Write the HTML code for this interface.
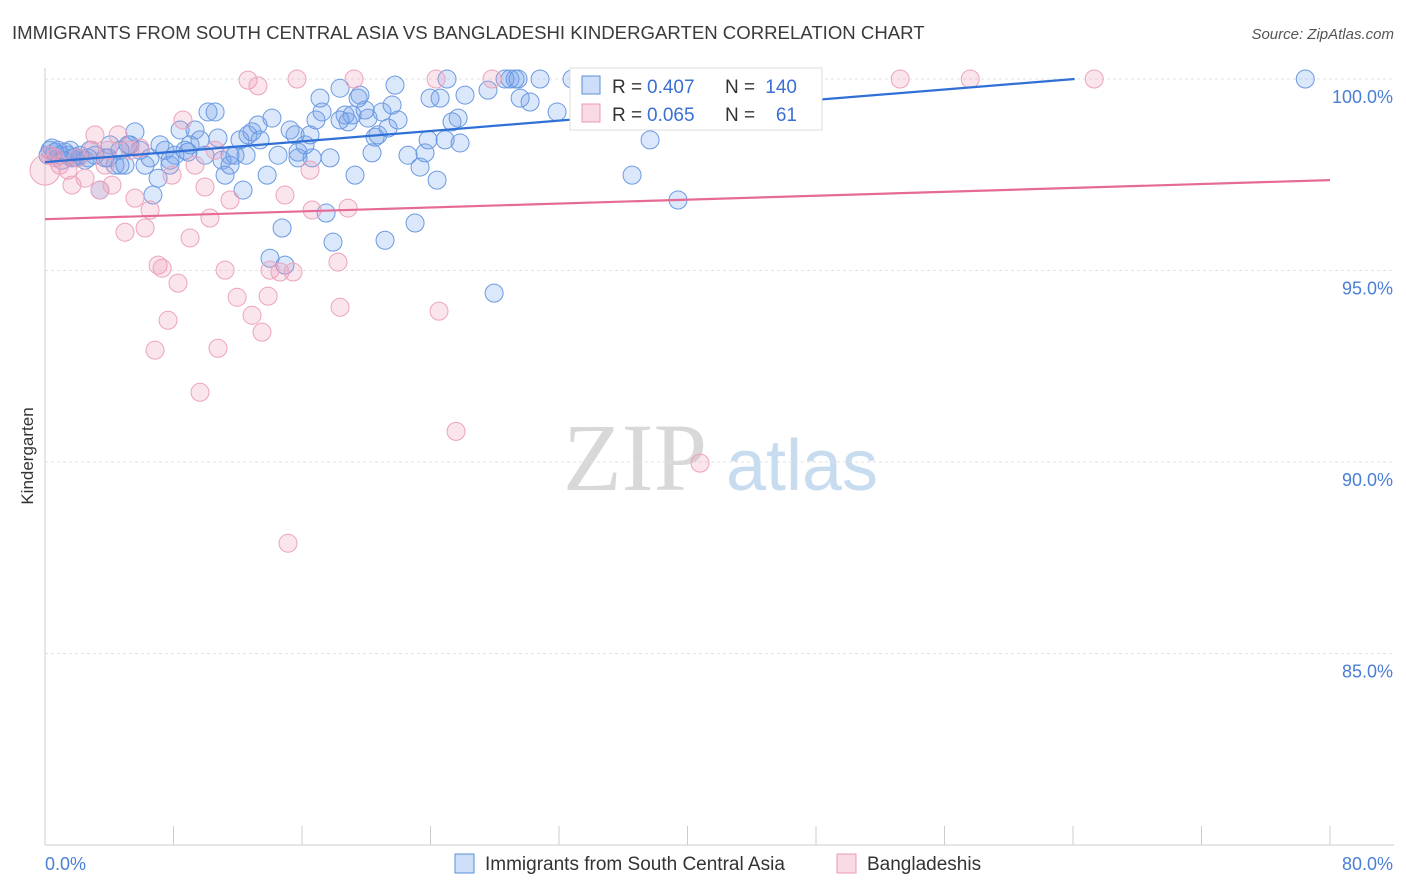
<!DOCTYPE html>
<html><head><meta charset="utf-8">
<style>
body{margin:0;background:#fff;font-family:"Liberation Sans",sans-serif;}
#wrap{position:relative;width:1406px;height:892px;overflow:hidden;}
</style></head>
<body><div id="wrap">
<svg id="chart" width="1406" height="892" xmlns="http://www.w3.org/2000/svg">
<text x="12" y="39" font-size="18.6" fill="#3a3a3a" font-family="Liberation Sans">IMMIGRANTS FROM SOUTH CENTRAL ASIA VS BANGLADESHI KINDERGARTEN CORRELATION CHART</text>
<text x="1394" y="39" font-size="15" fill="#555" font-style="italic" text-anchor="end">Source: ZipAtlas.com</text>
<text x="33" y="456" font-size="17" fill="#333" text-anchor="middle" transform="rotate(-90 33 456)">Kindergarten</text>
<g>
<text x="635" y="490" font-size="96" fill="#d8d8d8" font-family="Liberation Serif" text-anchor="middle">ZIP</text>
<text x="802" y="490" font-size="72" fill="#c8dcf0" text-anchor="middle">atlas</text>
</g>
<g id="grid"></g><g id="axes"></g><g id="pts"></g><g id="lines"></g>
<g>
<rect x="570" y="68" width="252" height="62" fill="#fff" stroke="#ddd"/>
<rect x="582" y="76" width="18" height="18" fill="rgba(110,160,235,0.35)" stroke="#5b8fd9"/>
<rect x="582" y="104" width="18" height="18" fill="rgba(240,150,180,0.35)" stroke="#e89ab5"/>
<text x="612" y="93" font-size="19" fill="#333">R =</text>
<text x="647" y="93" font-size="19" fill="#3b6fd4">0.407</text>
<text x="725" y="93" font-size="19" fill="#333">N =</text>
<text x="797" y="93" font-size="19" fill="#3b6fd4" text-anchor="end">140</text>
<text x="612" y="121" font-size="19" fill="#333">R =</text>
<text x="647" y="121" font-size="19" fill="#3b6fd4">0.065</text>
<text x="725" y="121" font-size="19" fill="#333">N =</text>
<text x="797" y="121" font-size="19" fill="#3b6fd4" text-anchor="end">61</text>
</g>
<g>
<rect x="455" y="854" width="19" height="19" fill="rgba(110,160,235,0.35)" stroke="#5b8fd9"/>
<text x="485" y="870" font-size="19" fill="#333">Immigrants from South Central Asia</text>
<rect x="837" y="854" width="19" height="19" fill="rgba(240,150,180,0.35)" stroke="#e89ab5"/>
<text x="867" y="870" font-size="19" fill="#333">Bangladeshis</text>
</g>
</svg>
<script>
const xTicks=[0,8,16,24,32,40,48,56,64,72,80];
const yTicks=[85,90,95,100];
const yTickLabels=["85.0%","90.0%","95.0%","100.0%"];
const blueX=[0.31,0.62,0.93,1.25,1.56,1.87,2.18,2.49,2.8,3.11,3.42,3.74,4.05,4.36,4.67,4.98,5.29,5.6,5.92,6.23,6.54,6.72,7.04,7.16,7.47,7.78,8.09,8.41,8.72,9.03,9.34,9.65,9.96,10.15,10.59,10.77,11.02,11.21,11.52,11.83,12.14,12.33,12.64,12.89,13.26,13.39,13.83,14.01,14.13,14.51,14.76,14.94,15.26,15.57,15.75,16.19,16.5,16.63,16.87,17.12,17.25,17.5,17.75,17.93,18.37,18.68,18.87,19.12,19.3,19.49,19.61,19.93,20.11,20.36,20.55,20.73,20.98,21.17,21.36,21.61,21.79,21.98,22.6,23.04,23.35,23.66,23.85,23.97,24.41,24.6,24.91,25.03,25.34,25.72,25.84,26.15,27.58,27.96,28.64,28.95,29.27,29.45,29.58,30.2,30.82,31.88,32.81,33.94,35.18,36.55,37.67,39.41,40.04,41.72,78.46,0.19,0.44,0.81,1.06,1.43,1.68,2.05,2.68,3.92,4.67,5.17,7.78,8.9,11.52,12.52,15.75,18.37];
const blueY=[98.14,98.09,98.01,98.09,98.14,97.96,98.01,97.88,98.14,98.01,97.1,97.94,98.28,97.75,98.14,97.75,98.28,98.62,98.14,97.75,97.94,96.97,97.41,98.28,98.14,97.75,98.01,98.67,98.14,98.28,98.67,98.41,98.01,99.14,99.14,98.46,97.88,97.49,97.75,98.01,98.41,97.1,98.54,98.62,98.8,98.41,97.49,95.32,98.98,98.01,96.11,95.14,98.67,98.54,98.09,98.28,98.54,97.94,98.93,99.5,99.14,96.5,97.94,95.74,99.76,99.06,98.88,99.06,97.49,99.5,99.58,99.19,98.98,98.07,98.48,98.54,99.14,95.79,98.72,99.32,99.84,98.93,98.01,96.24,97.7,98.07,98.41,99.5,97.36,99.5,98.41,100,98.88,98.98,98.33,99.58,99.71,94.41,100,100,100,100,99.5,99.4,100,99.14,100,99.5,99.14,97.49,98.41,96.84,99.71,100,100,98.01,98.2,98.14,97.88,98.01,97.94,97.94,97.94,97.94,97.75,98.28,97.88,98.09,98.01,98.01,97.94,98.93];
const pinkX=[0,0.31,0.62,0.93,1.43,1.68,2.05,2.49,2.93,3.11,3.42,3.74,3.92,4.17,4.55,4.98,5.29,5.6,5.92,6.23,6.54,6.85,7.04,7.29,7.66,7.91,8.28,8.59,9.03,9.34,9.65,9.96,10.27,10.59,10.77,11.21,11.52,11.96,12.64,12.89,13.26,13.51,13.89,14.01,14.63,14.94,15.13,15.44,15.69,16.5,16.63,18.24,18.37,18.87,19.24,24.35,24.53,25.59,27.83,40.78,53.24,57.6,65.32];
const pinkY=[97.62,98.01,97.94,97.75,97.62,97.23,97.94,97.41,98.14,98.54,97.1,97.75,98.14,97.23,98.54,96.0,98.14,96.89,98.2,96.11,96.58,92.92,95.14,95.06,93.7,97.49,94.67,98.93,95.85,97.75,91.82,97.18,96.37,98.14,92.97,95.01,96.84,94.3,99.97,93.83,99.82,93.39,94.33,95.01,94.96,96.97,87.88,94.96,100,97.62,96.58,95.22,94.04,96.63,100,100,93.94,90.8,100,89.97,100,100,100];
const blueTrend=[97.83,100];const blueTrendX=[0,64.1];
const pinkTrend=[96.34,97.36];const pinkTrendX=[0,80];

const NS="http://www.w3.org/2000/svg";
const X=v=>45+(v/80)*1285;
const Y=v=>845-((v-80)/20)*766;
function mk(tag,attrs,parent){const e=document.createElementNS(NS,tag);for(const k in attrs)e.setAttribute(k,attrs[k]);parent.appendChild(e);return e;}
const grid=document.getElementById('grid'),axes=document.getElementById('axes'),pts=document.getElementById('pts'),lines=document.getElementById('lines');
yTicks.forEach((t,i)=>{
 const l=mk('line',{x1:45,x2:1394,y1:Y(t),y2:Y(t),stroke:'#e2e2e2','stroke-dasharray':'3,3'},grid);
 
 
 const tx=mk('text',{x:1393,y:Y(t)+24,'font-size':18,fill:'#4a7fd6','text-anchor':'end'},axes);
 tx.textContent=yTickLabels[i];
 
 
});
const xa=mk('line',{x1:45,x2:1394,y1:845,y2:845,stroke:'#ccc'},axes);


const ya=mk('line',{x1:45,x2:45,y1:68,y2:845,stroke:'#ccc'},axes);


xTicks.forEach(t=>{
 const l=mk('line',{x1:X(t),x2:X(t),y1:826,y2:845,stroke:'#ccc'},axes);
 
 
});
const xl0=mk('text',{x:45,y:870,'font-size':18,fill:'#4a7fd6'},axes);xl0.textContent=xTicks[0].toFixed(1)+'%';


const xl1=mk('text',{x:1393,y:870,'font-size':18,fill:'#4a7fd6','text-anchor':'end'},axes);xl1.textContent=xTicks[xTicks.length-1].toFixed(1)+'%';


blueX.forEach((v,i)=>{
 const c=mk('circle',{cx:X(v),cy:Y(blueY[i]),r:9,fill:'rgba(110,160,235,0.25)',stroke:'#6b9ae0','stroke-width':1},pts);
 
 
});
pinkX.forEach((v,i)=>{
 const c=mk('circle',{cx:X(v),cy:Y(pinkY[i]),r:i===0?15:9,fill:'rgba(240,150,180,0.25)',stroke:'#eca3bd','stroke-width':1},pts);
 
 
});
const bl=mk('line',{x1:X(blueTrendX[0]),y1:Y(blueTrend[0]),x2:X(blueTrendX[1]),y2:Y(blueTrend[1]),stroke:'#2f6fd6','stroke-width':2.2},lines);


const pl=mk('line',{x1:X(pinkTrendX[0]),y1:Y(pinkTrend[0]),x2:X(pinkTrendX[1]),y2:Y(pinkTrend[1]),stroke:'#e66a96','stroke-width':2.2},lines);


</script>
</div></body></html>
